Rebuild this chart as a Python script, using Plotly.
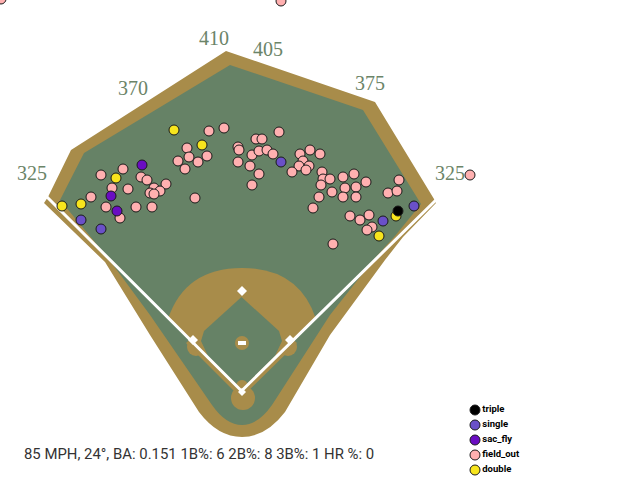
# spray chart on a ballpark outline, everything in picture coordinates

import plotly.graph_objects as go

W = 628
H = 483

#-----------------------------------
# batted balls

field_out_x = [1, 281, 209, 224, 279, 256, 262, 187, 238, 239, 189, 207, 198, 178, 185, 252, 259, 267, 273, 238, 250, 259, 252, 195,
               123, 101, 141, 147, 166, 112, 128, 154, 160, 150, 154, 91, 106, 136, 152, 120,
               310, 300, 320, 303, 309, 299, 306, 292, 322, 323, 330, 321, 343, 354, 366, 345, 356, 332, 343, 356, 319, 313,
               399, 388, 397, 350, 360, 369, 372, 367, 333, 470]
field_out_y = [-1, 1, 131, 128, 132, 139, 139, 148, 147, 150, 157, 156, 162, 161, 169, 155, 151, 150, 154, 162, 166, 174, 185, 198,
               169, 175, 177, 180, 184, 188, 189, 188, 191, 193, 194, 197, 207, 207, 207, 218,
               150, 154, 154, 161, 166, 166, 170, 172, 172, 179, 179, 185, 177, 174, 182, 188, 187, 192, 197, 197, 197, 208,
               180, 193, 191, 216, 220, 215, 227, 230, 244, 175]
double_x = [174, 202, 116, 62, 81, 396, 379]
double_y = [130, 145, 178, 206, 204, 216, 236]
sac_fly_x = [142, 111, 117]
sac_fly_y = [165, 196, 211]
single_x = [281, 81, 101, 414, 383]
single_y = [162, 220, 229, 206, 221]
triple_x = [398]
triple_y = [211]

legend_names = ['triple', 'single', 'sac_fly', 'field_out', 'double']
footer = '85 MPH, 24°, BA: 0.151 1B%: 6 2B%: 8 3B%: 1 HR %: 0'

fence_labels = ['325', '370', '410', '405', '375', '325']
fence_label_x = [32, 133, 214, 268, 370, 450]
fence_label_y = [175, 90, 40, 51, 85, 175]

#-----------------------------------
# colours

GRASS = '#668266'
DIRT = '#a88c4a'
colors = {'triple': '#000000', 'single': '#6a50c8', 'sac_fly': '#6a0dc2',
          'field_out': '#ffb0b0', 'double': '#f7e51d'}

#-----------------------------------
# ballpark outline

dirt_outer = ('M 48 197 L 71 150 L 226 51 L 375 102 L 434 199 L 436 203 L 403 237 L 385 260 '
              'L 330 335 L 285 412 Q 266 437 242 437 Q 218 437 199 412 L 150 335 L 105 262 L 44 203 Z')
grass_outer = ('M 60 200 L 84 153 L 230 65 L 363 110 L 421 204 L 395 236 L 375 258 L 330 315 '
               'L 272 405 Q 258 425 242 425 Q 226 425 212 405 L 150 315 L 108 258 Z')
infield_dirt = 'M 168 319 Q 185 268 242 268 Q 299 268 316 319 L 242 391 Z'
foul_dirt = 'M 186 343 L 241 398 L 297 343 L 290 337 L 241 385 L 193 337 Z'
infield_grass = 'M 241.5 297 L 204 331 L 201 341 L 208 356 L 241.5 389 L 275 356 L 282 341 L 279 331 Z'
foul_lines = 'M 47 197 L 241.5 391 L 437 199'
second_base = 'M 242 286 L 247 291 L 242 296 L 237 291 Z'
third_base = 'M 193 335 L 198 340 L 193 345 L 188 340 Z'
first_base = 'M 290 335 L 295 340 L 290 345 L 285 340 Z'
home_plate = 'M 242 388 L 246 392 L 242 396 L 238 392 Z'


def path(d, fill):
    return dict(type='path', path=d, xref='x', yref='y', layer='below', fillcolor=fill,
                line=dict(color=fill, width=0))


def disc(cx, cy, r, fill):
    return dict(type='circle', xref='x', yref='y', layer='below', x0=cx-r, x1=cx+r, y0=cy-r, y1=cy+r,
                fillcolor=fill, line=dict(width=0))


shapes = [
    path(dirt_outer, DIRT),
    path(grass_outer, GRASS),
    path(infield_dirt, DIRT),
    disc(196, 347, 9, DIRT),
    disc(288, 347, 9, DIRT),
    path(foul_dirt, DIRT),
    path(infield_grass, GRASS),
    disc(243, 398, 12, DIRT),
    disc(242, 386, 6, DIRT),
    disc(242, 343, 7, DIRT),
    dict(type='rect', xref='x', yref='y', layer='below', x0=238, x1=246, y0=341, y1=345,
         fillcolor='white', line=dict(width=0)),
    dict(type='path', path=foul_lines, xref='x', yref='y', layer='below',
         line=dict(color='white', width=3)),
    path(second_base, 'white'),
    path(third_base, 'white'),
    path(first_base, 'white'),
    path(home_plate, 'white'),
]

#-----------------------------------

fig = go.Figure()


def add_balls(x, y, name):
    fig.add_trace(go.Scatter(x=x, y=y, mode='markers', name=name, showlegend=False,
        marker=dict(color=colors[name], size=10, line=dict(color='#1a1a1a', width=1))))


add_balls(field_out_x, field_out_y, 'field_out')
add_balls(double_x, double_y, 'double')
add_balls(sac_fly_x, sac_fly_y, 'sac_fly')
add_balls(single_x, single_y, 'single')
add_balls(triple_x, triple_y, 'triple')

# legend rows are tighter than plotly's own legend allows
key_y = [410 + 15*i for i in range(len(legend_names))]
fig.add_trace(go.Scatter(x=[475]*len(legend_names), y=key_y, mode='markers+text', showlegend=False,
    text=legend_names, textposition='middle right',
    textfont=dict(family='Roboto', size=9.5, color='black', weight='bold'),
    marker=dict(color=[colors[n] for n in legend_names], size=10, line=dict(color='#1a1a1a', width=1))))

fig.add_trace(go.Scatter(x=fence_label_x, y=fence_label_y, mode='text', showlegend=False,
    text=fence_labels, textfont=dict(family='Liberation Serif', size=20, color='#6b8468')))

fig.add_annotation(x=21.5, y=454, xref='x', yref='y', xanchor='left', yanchor='middle', showarrow=False,
    text=footer, font=dict(family='Roboto', size=14.9, color='#333333'))

fig.update_layout(width=W, height=H, margin=dict(l=0, r=0, t=0, b=0), autosize=False,
    plot_bgcolor='white', paper_bgcolor='white', shapes=shapes, showlegend=False)
fig.update_xaxes(range=[0, W], visible=False, fixedrange=True)
fig.update_yaxes(range=[H, 0], visible=False, fixedrange=True)

# drop the browser's default page margin
fig.write_html("out.html", config=dict(displayModeBar=False),
    post_script="document.body.style.margin='0';")
